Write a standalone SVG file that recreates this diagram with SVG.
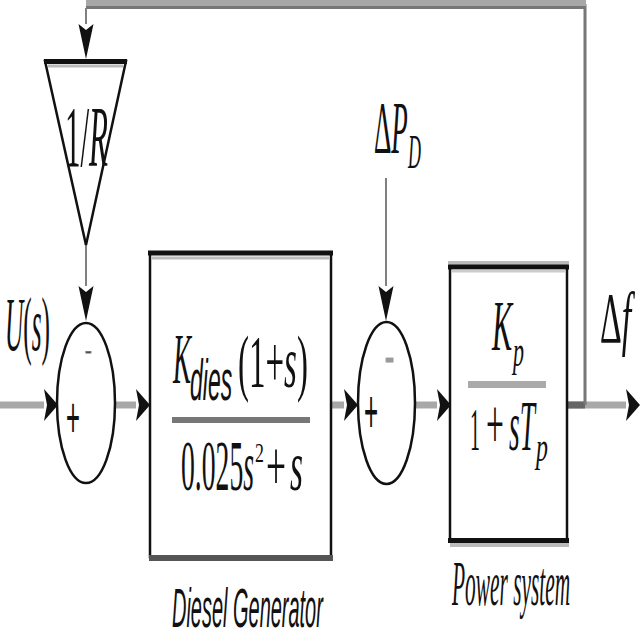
<svg xmlns="http://www.w3.org/2000/svg" width="640" height="640" viewBox="0 0 640 640">
<defs>
<style>
.sig{stroke:#a8a8a8;stroke-width:7;fill:none}
.thin{stroke:#808080;stroke-width:2;fill:none}
.blk{stroke:#111;stroke-width:2.5;fill:#fff}
.serif{font-family:"Liberation Serif","Times New Roman",serif;fill:#111}
.sans{font-family:"Liberation Sans",Arial,sans-serif;fill:#111}
.it{font-style:italic}
</style>
<marker id="ah" markerUnits="userSpaceOnUse" markerWidth="16" markerHeight="34" refX="0" refY="16" orient="auto" overflow="visible">
<path d="M0,0 L14,16 L0,32 L3,16 Z" fill="#111"/>
</marker>
<marker id="av" markerUnits="userSpaceOnUse" markerWidth="36" markerHeight="16" refX="0" refY="7.5" orient="auto" overflow="visible">
<path d="M0,0 L35,7.5 L0,15 L6,7.5 Z" fill="#111"/>
</marker>
</defs>
<rect width="640" height="640" fill="#fff"/>

<g id="connectors">
<path class="sig" d="M0,405 H44" marker-end="url(#ah)"/>
<path class="sig" d="M115,405 H136" marker-end="url(#ah)"/>
<path class="sig" d="M331,405 H344" marker-end="url(#ah)"/>
<path class="sig" d="M415,405 H437" marker-end="url(#ah)"/>
<path class="sig" d="M567,405 H626" marker-end="url(#ah)"/>
<path d="M567,405 H585" stroke="#666" stroke-width="7"/>
<path d="M585,405 V4" stroke="#777" stroke-width="3" fill="none"/>
<path d="M86,4 H586" stroke="#a8a8a8" stroke-width="9" fill="none"/>
<path d="M86,7.5 H586" stroke="#777" stroke-width="3" fill="none"/>
<path class="thin" d="M86,8 V24" marker-end="url(#av)"/>
<path class="thin" d="M86,245 V286" marker-end="url(#av)"/>
<path class="thin" d="M386,178 V286" marker-end="url(#av)"/>
</g>

<g id="gain">
<polygon class="blk" points="45,61 126,61 86,245"/>
<path d="M44,61.5 H127" stroke="#111" stroke-width="5"/>
<path d="M48,66 H123" stroke="#bbb" stroke-width="3"/>
<text class="serif" font-size="86" transform="translate(65,166) scale(0.36,1)">1/<tspan class="it">R</tspan></text>
</g>

<g id="sum1">
<ellipse class="blk" cx="86" cy="403" rx="29" ry="80"/>
<text class="sans" font-size="20" fill="#666" stroke="#777" stroke-width="1" transform="translate(85,358)">-</text>
<text class="sans" font-size="57" transform="translate(66,437) scale(0.42,1)">+</text>
</g>

<g id="diesel">
<rect class="blk" x="150" y="253" width="181" height="304"/>
<path d="M148,253 H333" stroke="#111" stroke-width="5"/>
<path d="M152,258 H329" stroke="#bbb" stroke-width="3"/>
<path d="M149,558 H333" stroke="#555" stroke-width="6"/>
<text class="serif it" font-size="72" transform="translate(173,383) scale(0.375,1)">K</text>
<text class="sans it" font-size="58" transform="translate(190,400) scale(0.396,1)">dies</text>
<text class="serif" font-size="75" transform="translate(238,387) scale(0.44,1)">(1+<tspan class="it">s</tspan>)</text>
<rect x="172" y="417" width="138" height="6" fill="#777"/>
<text class="serif" font-size="71" transform="translate(181,490) scale(0.39,1)">0.025<tspan class="it">s</tspan></text>
<text class="serif" font-size="28" transform="translate(255,462) scale(0.64,1)">2</text>
<text class="serif" font-size="71" transform="translate(266,490) scale(0.5,1)">+</text>
<text class="serif it" font-size="71" transform="translate(290,490) scale(0.47,1)">s</text>
<text class="sans it" font-size="55" transform="translate(172,627) scale(0.363,1)">Diesel Generator</text>
</g>

<g id="sum2">
<ellipse class="blk" cx="386.5" cy="403" rx="28.5" ry="81"/>
<text class="sans" font-size="24" fill="#888" stroke="#999" stroke-width="3" transform="translate(386,366) scale(0.875,1)">-</text>
<text class="sans" font-size="62" transform="translate(364,432) scale(0.39,1)">+</text>
</g>

<g id="power">
<rect class="blk" x="450" y="266" width="117" height="274"/>
<path d="M448,262.5 H569" stroke="#bbb" stroke-width="3"/>
<path d="M448,267 H569" stroke="#111" stroke-width="5"/>
<path d="M452,271 H565" stroke="#ccc" stroke-width="3"/>
<path d="M448,540.5 H569" stroke="#111" stroke-width="5"/>
<path d="M450,545 H569" stroke="#bbb" stroke-width="4"/>
<text class="serif it" font-size="72" transform="translate(492,350) scale(0.42,1)">K</text>
<text class="serif it" font-size="45" transform="translate(513,366) scale(0.49,1)">p</text>
<rect x="468" y="381" width="78" height="7" fill="#aaa"/>
<text class="serif" font-size="62" transform="translate(470,450) scale(0.32,1)">1</text>
<text class="serif" font-size="72" transform="translate(486,448) scale(0.44,1)">+</text>
<text class="serif it" font-size="72" transform="translate(509,450) scale(0.38,1)">sT</text>
<text class="serif it" font-size="42" transform="translate(536,461) scale(0.57,1)">p</text>
<text class="serif it" font-size="64" transform="translate(452,605) scale(0.334,1)">Power system</text>
</g>

<g id="labels">
<text class="serif" font-size="76" transform="translate(5,350) scale(0.333,1)"><tspan class="it">U</tspan>(<tspan class="it">s</tspan>)</text>
<text class="serif" font-size="75" transform="translate(374,153) scale(0.36,1)">Δ<tspan class="it">P</tspan></text>
<text class="serif it" font-size="48" transform="translate(408,168) scale(0.375,1)">D</text>
<text class="serif" font-size="72" transform="translate(600,342) scale(0.47,1)">Δ<tspan class="it">f</tspan></text>
</g>
</svg>
